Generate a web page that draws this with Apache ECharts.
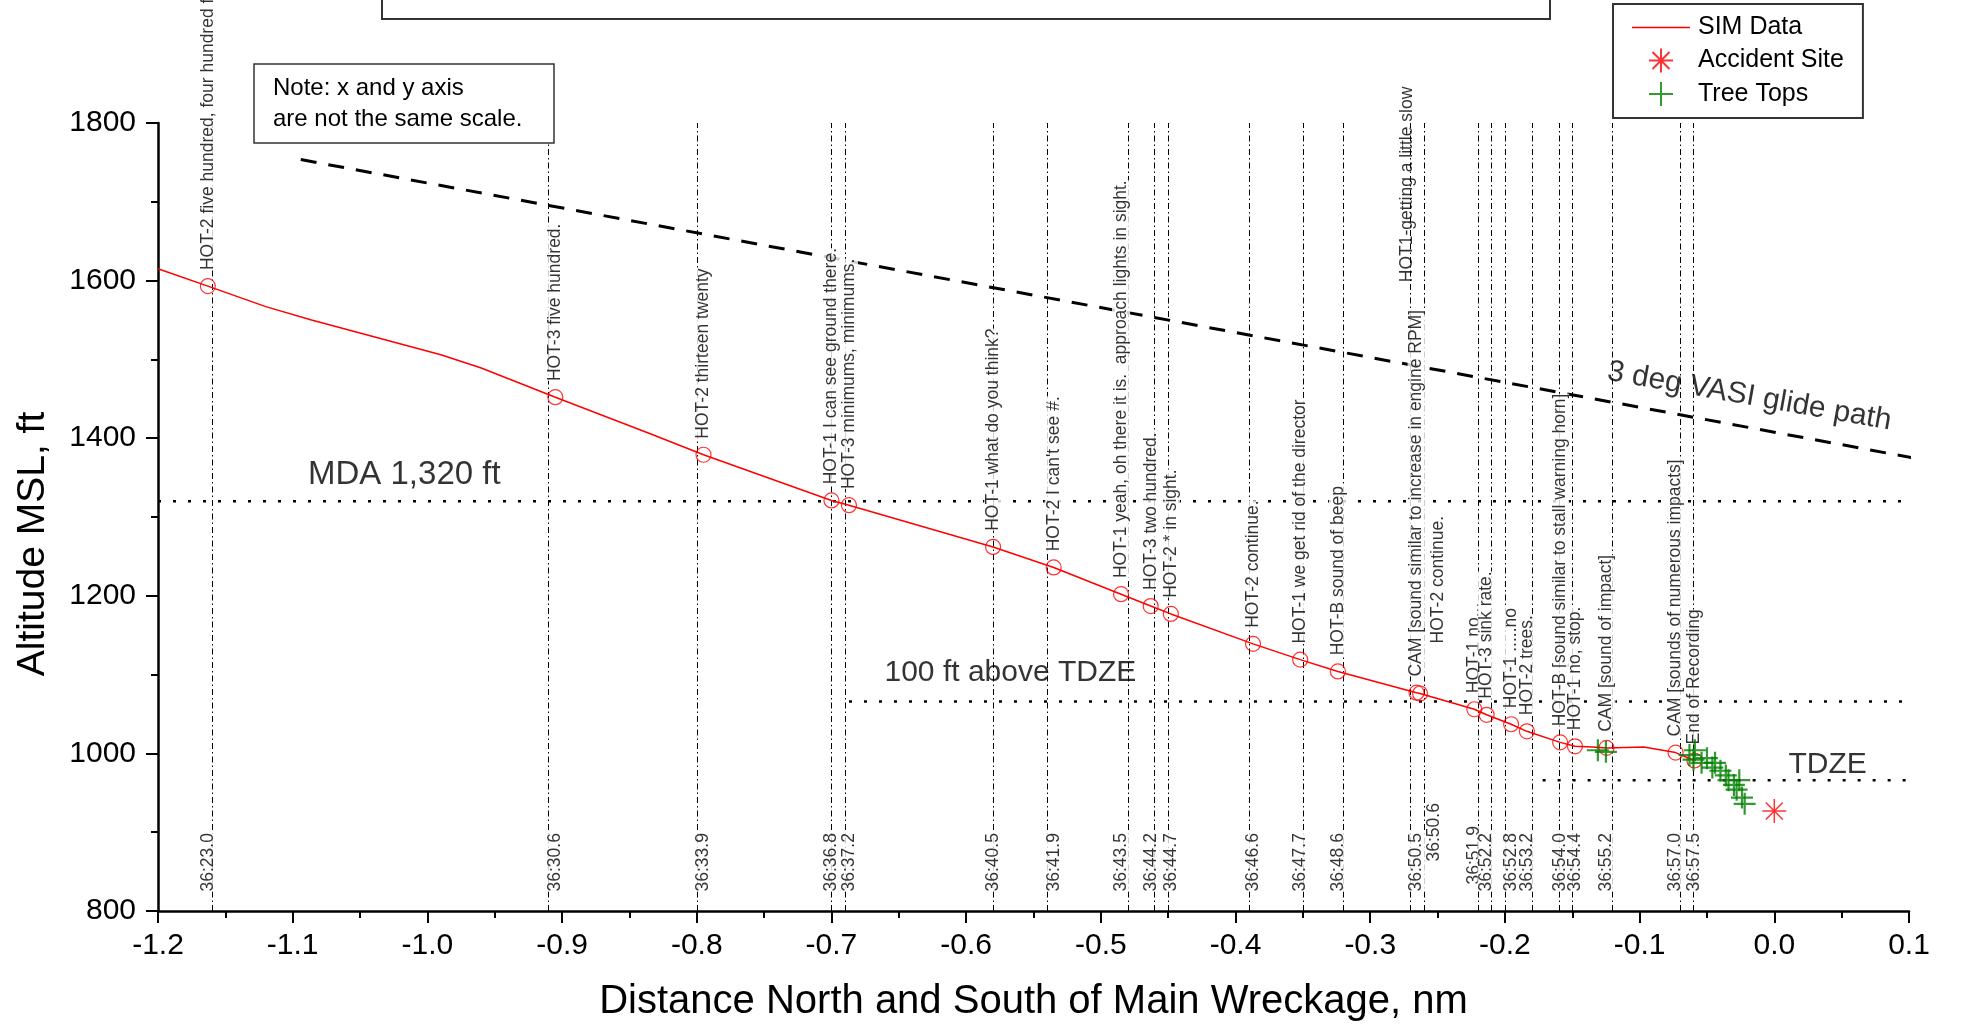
<!DOCTYPE html>
<html>
<head>
<meta charset="utf-8">
<script src="https://cdn.jsdelivr.net/npm/echarts@6/dist/echarts.min.js"></script>
<style>
html,body{margin:0;padding:0;background:#fff;}
#c{width:1986px;height:1027px;}
</style>
</head>
<body>
<div id="c"></div>
<script>
const FONT = '"Liberation Sans", Arial, Helvetica, sans-serif';

// ---------------- data ----------------
const simDist = [-1.2, -1.163, -1.12, -1.086, -0.99, -0.96, -0.905, -0.835, -0.795, -0.700, -0.687, -0.580, -0.535, -0.485, -0.463, -0.448, -0.387, -0.352, -0.324, -0.2656, -0.263, -0.2227, -0.2136, -0.1954, -0.1837, -0.159, -0.148, -0.135, -0.1246, -0.097, -0.0797, -0.0733, -0.0593];
const simAlt  = [1615, 1593, 1567, 1550, 1506, 1489, 1452, 1406, 1379, 1321, 1315, 1262, 1236, 1202, 1187, 1177, 1139, 1119, 1104, 1077, 1076, 1056, 1049, 1037, 1028, 1014, 1009, 1008, 1007, 1008, 1003, 1001, 991];

const eventTime = ['36:23.0','36:30.6','36:33.9','36:36.8','36:37.2','36:40.5','36:41.9','36:43.5','36:44.2','36:44.7','36:46.6','36:47.7','36:48.6','36:50.5','36:50.6','36:51.9','36:52.2','36:52.8','36:53.2','36:54.0','36:54.4','36:55.2','36:57.0','36:57.5'];
const eventDist = [-1.163, -0.905, -0.795, -0.700, -0.687, -0.580, -0.535, -0.485, -0.463, -0.448, -0.387, -0.352, -0.324, -0.2656, -0.263, -0.2227, -0.2136, -0.1954, -0.1837, -0.159, -0.148, -0.1246, -0.0733, -0.0593];
const eventAlt  = [1593, 1452, 1379, 1321, 1315, 1262, 1236, 1202, 1187, 1177, 1139, 1119, 1104, 1077, 1076, 1056, 1049, 1037, 1028, 1014, 1009, 1007, 1001, 991];
const eventText = [
  'HOT-2 five hundred, four hundred f',
  'HOT-3 five hundred.',
  'HOT-2 thirteen twenty',
  'HOT-1 I can see ground there.',
  'HOT-3 minimums, minimums.',
  'HOT-1 what do you think?',
  "HOT-2 I can't see #.",
  'HOT-1 yeah, oh there it is.  approach lights in sight.',
  'HOT-3 two hundred.',
  'HOT-2 * in sight.',
  'HOT-2 continue.',
  'HOT-1 we get rid of the director',
  'HOT-B sound of beep',
  'CAM [sound similar to increase in engine RPM]',
  'HOT-2 continue.',
  'HOT-1 no...',
  'HOT-3 sink rate.',
  'HOT-1 .....no',
  'HOT-2 trees.',
  'HOT-B [sound similar to stall warning horn]',
  'HOT-1 no, stop.',
  'CAM [sound of impact]',
  'CAM [sounds of numerous impacts]',
  'End of Recording'
];

const accidentDist = [0.0];
const accidentAlt  = [927];

const treeDist = [-0.131, -0.125, -0.063, -0.060, -0.059, -0.054, -0.050, -0.046, -0.044, -0.040, -0.036, -0.034, -0.030, -0.028, -0.026, -0.024, -0.022];
const treeAlt  = [1004, 1002, 998, 992, 1004, 988, 994, 982, 988, 978, 972, 966, 960, 954, 966, 944, 936];

const glideDist = [-1.094, 0.16];
const glideAlt  = [1753.6, 1357];
const mdaDist = [-1.2, 0.1];
const mdaAlt  = [1320, 1320];
const above100Dist = [-0.687, 0.122];
const above100Alt  = [1066, 1066];
const tdzeDist = [-0.172, 0.128];
const tdzeAlt  = [966, 966];

const xRange = [-1.2, 0.1, 0.1];
const yRange = [800, 1800, 200];

const annotText = ['MDA 1,320 ft', '100 ft above TDZE', 'TDZE', '3 deg VASI glide path', 'HOT1-getting a little slow'];
const annotDist = [-1.089, -0.661, 0.0102, -0.0185, -0.2656];
const annotAlt  = [1353, 1103, 986, 1453, 1598];

// ---------------- styling / building ----------------
const zip = (a, b) => a.map((v, i) => [v, b[i]]);
// label offsets are in the rotated text frame: [along text (up), across text (right)]
const eventShift = {14: [34, 18]};
const timeShift = {14: [30, 14], 15: [7, 0]};
const annotStyle = [
  {fontSize: 33, position: 'right', distance: 0, align: 'left', verticalAlign: 'middle'},
  {fontSize: 30, position: 'right', distance: 0, align: 'left', verticalAlign: 'middle'},
  {fontSize: 30, position: 'right', distance: 0, align: 'left', verticalAlign: 'middle'},
  {fontSize: 30, position: 'inside', rotate: -10, align: 'center', verticalAlign: 'middle'},
  {fontSize: 17.5, position: 'inside', rotate: 90, align: 'left', verticalAlign: 'middle', offset: [0, -9]}
];

const LBL = 17.5;
const dotted = {color: '#000', width: 2.5, type: [3, 12]};

const chart = echarts.init(document.getElementById('c'), null, {width: 1986, height: 1027, renderer: 'canvas'});

const fmtX = v => (Math.abs(v) < 1e-9 ? 0 : v).toFixed(1);
const fmtY = v => String(Math.round(v));

const option = {
  animation: false,
  backgroundColor: '#fff',
  textStyle: {fontFamily: FONT, color: '#000'},
  grid: {left: 158, right: 77, top: 123, bottom: 116, containLabel: false, outerBoundsMode: 'none'},
  legend: {
    show: true, orient: 'vertical', left: 1613, top: 4,
    itemWidth: 58, itemHeight: 24, itemGap: 7.5,
    padding: [11, 19, 11, 19],
    borderColor: '#333', borderWidth: 2, backgroundColor: '#fff',
    textStyle: {fontSize: 25, fontFamily: FONT, color: '#000', lineHeight: 25, padding: [0, 0, 0, 3]},
    data: [
      {name: 'SIM Data', icon: 'path://M0,0L100,0L100,2.6L0,2.6Z'},
      'Accident Site',
      'Tree Tops'
    ],
    selectedMode: false
  },
  xAxis: {
    type: 'value', min: xRange[0], max: xRange[1], interval: xRange[2],
    name: 'Distance North and South of Main Wreckage, nm',
    nameLocation: 'middle', nameGap: 71,
    nameTextStyle: {fontSize: 40, fontFamily: FONT, color: '#000'},
    axisLine: {show: true, onZero: false, lineStyle: {color: '#000', width: 2.5}},
    axisTick: {show: true, length: 12, lineStyle: {color: '#000', width: 2}},
    minorTick: {show: true, splitNumber: 2, length: 7, lineStyle: {color: '#000', width: 2}},
    axisLabel: {fontSize: 30, fontFamily: FONT, color: '#000', margin: 20, formatter: fmtX},
    splitLine: {show: false}, minorSplitLine: {show: false}
  },
  yAxis: {
    type: 'value', min: yRange[0], max: yRange[1], interval: yRange[2],
    name: 'Altitude MSL, ft',
    nameLocation: 'middle', nameGap: 105,
    nameTextStyle: {fontSize: 39, fontFamily: FONT, color: '#000', padding: [0, 54, 0, 0]},
    axisLine: {show: true, onZero: false, lineStyle: {color: '#000', width: 2.5}},
    axisTick: {show: true, length: 12, lineStyle: {color: '#000', width: 2}},
    minorTick: {show: true, splitNumber: 2, length: 7, lineStyle: {color: '#000', width: 2}},
    axisLabel: {fontSize: 30, fontFamily: FONT, color: '#000', margin: 22, formatter: fmtY},
    splitLine: {show: false}, minorSplitLine: {show: false}
  },
  graphic: [
    {type: 'rect', shape: {x: 382, y: -20, width: 1168, height: 39}, style: {fill: '#fff', stroke: '#333', lineWidth: 2}, z: 10},
    {type: 'rect', shape: {x: 254, y: 64, width: 300, height: 79}, style: {fill: '#fff', stroke: '#333', lineWidth: 1.5}, z: 10},
    {type: 'text', x: 273, y: 104, style: {text: 'Note: x and y axis\nare not the same scale.', font: '24px ' + FONT, fill: '#000', lineHeight: 31.6, verticalAlign: 'middle'}, z: 11}
  ],
  series: [
    {
      name: 'MDA', type: 'line', data: zip(mdaDist, mdaAlt), symbol: 'none', silent: true,
      lineStyle: dotted, z: 2
    },
    {
      name: '100ft', type: 'line', data: zip(above100Dist, above100Alt), symbol: 'none', silent: true, clip: false,
      lineStyle: dotted, z: 2
    },
    {
      name: 'TDZEline', type: 'line', data: zip(tdzeDist, tdzeAlt), symbol: 'none', silent: true, clip: false,
      lineStyle: dotted, z: 2
    },
    {
      name: 'Glide', type: 'line', data: zip(glideDist, glideAlt), symbol: 'none', silent: true, clip: false,
      lineStyle: {color: '#000', width: 3, type: [16, 12]}, z: 2
    },
    {
      name: 'SIM Data', type: 'line', data: zip(simDist, simAlt), symbol: 'none', silent: true,
      lineStyle: {color: '#ff0000', width: 1.5}, itemStyle: {color: '#ff0000'}, z: 3
    },
    {
      name: 'events', type: 'scatter', silent: true, z: 6,
      data: eventDist.map((x, i) => {
        const d = {value: [x, eventAlt[i], eventText[i]]};
        if (eventShift[i]) d.label = {offset: eventShift[i]};
        return d;
      }),
      symbol: 'circle', symbolSize: 15,
      itemStyle: {color: 'transparent', borderColor: '#ff0000', borderWidth: 1.2},
      label: {
        show: true, position: 'top', distance: 8, rotate: 90, align: 'left', verticalAlign: 'middle',
        formatter: p => p.data.value[2], color: '#000', fontSize: LBL, fontFamily: FONT,
        lineHeight: 18, backgroundColor: '#fff'
      },
      markLine: {
        silent: true, symbol: ['none', 'none'], z: 1,
        label: {show: false},
        lineStyle: {color: '#000', width: 1, type: [6, 3, 1.5, 3]},
        data: eventDist.map(x => ({xAxis: x}))
      }
    },
    {
      name: 'times', type: 'scatter', silent: true, z: 6,
      data: eventDist.map((x, i) => {
        const d = {value: [x, yRange[0], eventTime[i]]};
        if (timeShift[i]) d.label = {offset: timeShift[i]};
        return d;
      }),
      symbol: 'circle', symbolSize: 1, itemStyle: {color: 'transparent'},
      label: {
        show: true, position: 'top', distance: 19, rotate: 90, align: 'left', verticalAlign: 'middle',
        formatter: p => p.data.value[2], color: '#000', fontSize: LBL, fontFamily: FONT,
        lineHeight: 18, backgroundColor: '#fff'
      }
    },
    {
      name: 'Tree Tops', type: 'scatter', silent: true, z: 7,
      data: zip(treeDist, treeAlt),
      symbol: 'path://M-10,0L10,0M0,-10L0,10', symbolSize: 22, symbolKeepAspect: true,
      itemStyle: {color: 'transparent', borderColor: '#008000', borderWidth: 2.2}
    },
    {
      name: 'Accident Site', type: 'scatter', silent: true, z: 7,
      data: zip(accidentDist, accidentAlt),
      symbol: 'path://M0,-10L0,10M-10,0L10,0M-7.07,-7.07L7.07,7.07M-7.07,7.07L7.07,-7.07', symbolSize: 24, symbolKeepAspect: true,
      itemStyle: {color: 'transparent', borderColor: '#ff0000', borderWidth: 1.5}
    },
    {
      name: 'annot', type: 'scatter', silent: true, z: 7,
      data: annotDist.map((x, i) => ({value: [x, annotAlt[i], annotText[i]], label: annotStyle[i]})),
      symbol: 'circle', symbolSize: 1, itemStyle: {color: 'transparent'},
      label: {show: true, formatter: p => p.data.value[2], color: '#000', fontFamily: FONT}
    }
  ]
};
chart.setOption(option);
</script>
</body>
</html>
